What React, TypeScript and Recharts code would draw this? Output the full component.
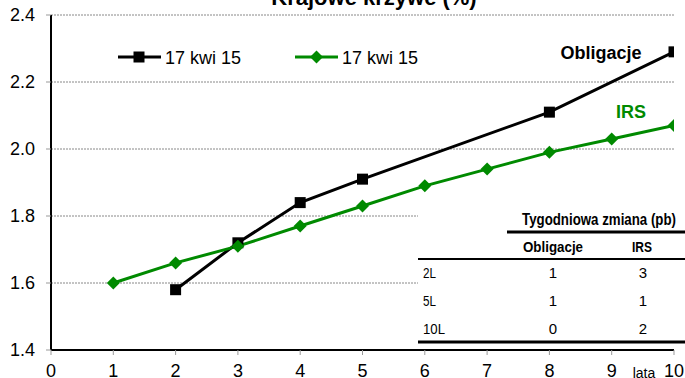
import React from "react";
import { CartesianGrid, Line, LineChart, XAxis, YAxis } from "recharts";

const FONT = "'Liberation Sans', Arial, sans-serif";
const GREEN = "#008a00";

const xTicks = [0, 1, 2, 3, 4, 5, 6, 7, 8, 9, 10];
const yTicks = [1.4, 1.6, 1.8, 2.0, 2.2, 2.4];

const bondYears = [2, 3, 4, 5, 8, 10];
const bondYields = [1.58, 1.72, 1.84, 1.91, 2.11, 2.29];

const irsYears = [1, 2, 3, 4, 5, 6, 7, 8, 9, 10];
const irsRates = [1.6, 1.66, 1.71, 1.77, 1.83, 1.89, 1.94, 1.99, 2.03, 2.07];

const legendLabels = ["17 kwi 15", "17 kwi 15"];

const tableRows = ["2L", "5L", "10L"];
const bondChange = [1, 1, 0];
const irsChange = [3, 1, 2];

const bondData = bondYears.map((x, i) => ({ x, y: bondYields[i] }));
const irsData = irsYears.map((x, i) => ({ x, y: irsRates[i] }));

function SquareDot(props: any) {
  const { cx, cy } = props;
  if (cx == null || cy == null) return null;
  return <rect x={cx - 5.5} y={cy - 5.5} width={11} height={11} fill="#000" />;
}

function DiamondDot(props: any) {
  const { cx, cy } = props;
  if (cx == null || cy == null) return null;
  return (
    <polygon
      points={`${cx},${cy - 6.5} ${cx + 6.5},${cy} ${cx},${cy + 6.5} ${cx - 6.5},${cy}`}
      fill={GREEN}
    />
  );
}

export default function App() {
  return (
    <div style={{ position: "absolute", left: 0, top: 0, width: 685, height: 378, background: "#fff", fontFamily: FONT }}>
      <LineChart width={685} height={378} margin={{ top: 15, right: 11, left: 0, bottom: 0 }}>
        <CartesianGrid vertical={false} stroke="#888" strokeDasharray="2 1" />
        <XAxis
          type="number"
          dataKey="x"
          domain={[0, 10]}
          ticks={xTicks}
          height={28}
          tickSize={5}
          tickMargin={9}
          axisLine={{ stroke: "#000", strokeWidth: 2 }}
          tickLine={{ stroke: "#999" }}
          tick={{ fontSize: 18, fill: "#000", fontFamily: FONT }}
          allowDataOverflow
        />
        <YAxis
          type="number"
          domain={[1.4, 2.4]}
          ticks={yTicks}
          width={51}
          tickSize={5}
          tickMargin={11}
          axisLine={{ stroke: "#000", strokeWidth: 2 }}
          tickLine={{ stroke: "#999" }}
          tick={{ fontSize: 18, fill: "#000", fontFamily: FONT }}
          tickFormatter={(v: number) => v.toFixed(1)}
        />
        <Line
          data={bondData}
          dataKey="y"
          name="Obligacje"
          stroke="#000"
          strokeWidth={3}
          dot={<SquareDot />}
          activeDot={false}
          isAnimationActive={false}
        />
        <Line
          data={irsData}
          dataKey="y"
          name="IRS"
          stroke={GREEN}
          strokeWidth={3}
          dot={<DiamondDot />}
          activeDot={false}
          isAnimationActive={false}
        />
      </LineChart>
      <svg
        width={685}
        height={378}
        style={{ position: "absolute", left: 0, top: 0, pointerEvents: "none", fontFamily: FONT }}
      >
        <text x={374} y={5} textAnchor="middle" fontSize={22} fontWeight="bold" fill="#000">
          Krajowe krzywe (%)
        </text>
        {/* legend */}
        <line x1={118} y1={57} x2={161} y2={57} stroke="#000" strokeWidth={3} />
        <rect x={133.5} y={51.5} width={11} height={11} fill="#000" />
        <text x={165} y={63.5} fontSize={18} fill="#000">
          {legendLabels[0]}
        </text>
        <line x1={295} y1={57} x2={338} y2={57} stroke={GREEN} strokeWidth={3} />
        <polygon points="316.5,50.5 323,57 316.5,63.5 310,57" fill={GREEN} />
        <text x={342} y={63.5} fontSize={18} fill="#000">
          {legendLabels[1]}
        </text>
        <text x={601} y={59} textAnchor="middle" fontSize={18} fontWeight="bold" fill="#000">
          Obligacje
        </text>
        <text x={631} y={118} textAnchor="middle" fontSize={18} fontWeight="bold" fill={GREEN}>
          IRS
        </text>
        {/* weekly change table */}
        <rect x={418} y={203} width={267} height={142} fill="#fff" />
        <text x={522} y={225} fontSize={16} fontWeight="bold" fill="#000" textLength={154} lengthAdjust="spacingAndGlyphs">
          Tygodniowa zmiana (pb)
        </text>
        <line x1={507} y1={232} x2={685} y2={232} stroke="#000" strokeWidth={3} />
        <text x={523} y={252} fontSize={15} fontWeight="bold" fill="#000" textLength={60} lengthAdjust="spacingAndGlyphs">
          Obligacje
        </text>
        <text x={632} y={252} fontSize={15} fontWeight="bold" fill="#000" textLength={20} lengthAdjust="spacingAndGlyphs">
          IRS
        </text>
        <line x1={418} y1={259} x2={685} y2={259} stroke="#000" strokeWidth={2} />
        {tableRows.map((r, i) => (
          <g key={r}>
            <text x={423} y={278 + i * 28} fontSize={15} fill="#000" textLength={r.length === 2 ? 13 : 22} lengthAdjust="spacingAndGlyphs">
              {r}
            </text>
            <text x={553} y={278 + i * 28} textAnchor="middle" fontSize={15} fill="#000">
              {bondChange[i]}
            </text>
            <text x={643} y={278 + i * 28} textAnchor="middle" fontSize={15} fill="#000">
              {irsChange[i]}
            </text>
          </g>
        ))}
        <line x1={418} y1={342} x2={685} y2={342} stroke="#000" strokeWidth={3} />
        <rect x={627} y={362} width={36} height={16} fill="#fff" />
        <text x={644} y={378} textAnchor="middle" fontSize={14} fill="#000">
          lata
        </text>
      </svg>
    </div>
  );
}
